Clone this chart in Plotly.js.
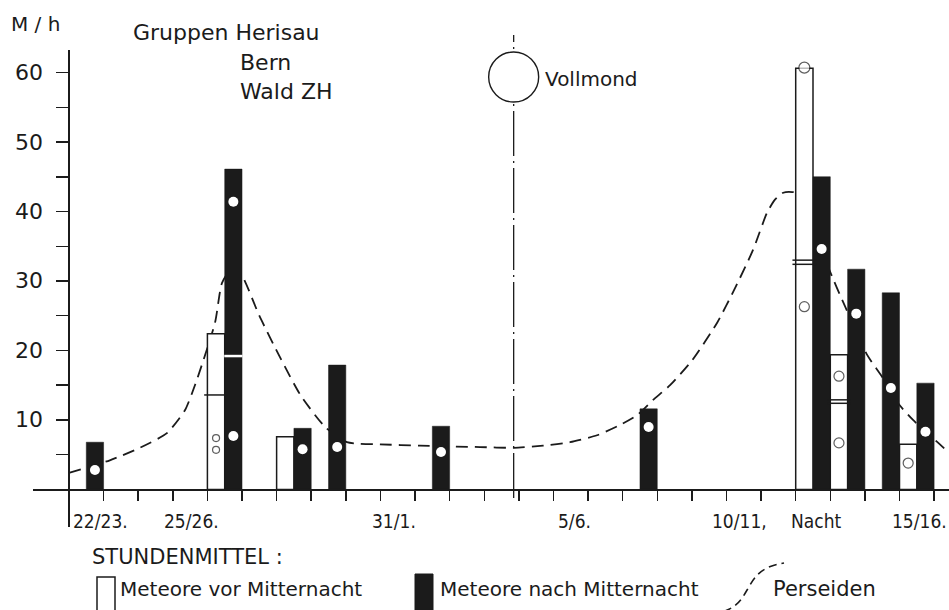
<!DOCTYPE html>
<html><head><meta charset="utf-8">
<script src="https://cdn.plot.ly/plotly-3.0.1.min.js"></script>
<style>html,body{margin:0;padding:0;background:#fff}</style>
</head><body><div id="chart" style="width:949px;height:610px"></div>
<script>
// ---- data (x unit = one night, interval index; 0 = night 22/23.) ----
const nightsBefore = [4, 6, 21, 22, 24];
const valuesBefore = [22.4, 7.6, 60.6, 19.4, 6.5];
const nightsAfter = [0, 4, 6, 7, 10, 16, 21, 22, 23, 24];
const valuesAfter = [6.8, 46.1, 8.8, 17.9, 9.1, 11.6, 45.0, 31.7, 28.3, 15.3];
// single group values inside white bars (lines)
const groupLineNights = [4, 21, 21, 22, 22];
const groupLineValues = [13.6, 33.0, 32.4, 12.9, 12.4];
// single group value inside black bar (white dash)
const groupDashNights = [4];
const groupDashValues = [19.2];
// open circles (before midnight)
const openNights = [4, 4, 21, 21, 22, 22, 24];
const openValues = [7.4, 5.7, 60.7, 26.3, 16.3, 6.7, 3.8];
const openSizes = [7, 7, 11, 10, 10, 10, 10];
// white dots (after midnight)
const dotNights = [0, 4, 4, 6, 7, 10, 16, 21, 22, 23, 24];
const dotValues = [2.8, 41.4, 7.7, 5.8, 6.1, 5.4, 9.0, 34.6, 25.3, 14.6, 8.3];
// Perseiden curve
const curveX = [0, 1.18, 2.05, 2.83, 3.35, 3.64, 4.22, 4.42, 4.7, 4.97, 5.5, 6.1, 6.7, 7.4, 8.03, 8.99, 10.14, 11.88, 12.86, 13.70, 14.48, 15.26, 15.93, 16.42, 16.88, 17.37, 18.01, 18.73, 19.25, 19.77, 20.17, 20.40, 20.64, 20.90, 21.15, 21.5, 21.94, 22.43, 23.06, 23.5, 23.96, 24.39, 25.12, 25.43];
const curveY = [2.4, 4.2, 6.0, 8.1, 11.4, 15.0, 24.0, 29.7, 31.8, 31.0, 25.0, 19.0, 13.5, 9.0, 6.8, 6.5, 6.3, 6.1, 6.0, 6.3, 6.8, 7.8, 9.3, 10.7, 12.9, 15.0, 18.6, 24.0, 29.0, 34.5, 39.8, 41.7, 42.7, 42.8, 42.5, 38.5, 32.0, 26.3, 19.4, 16.2, 12.4, 10.0, 6.7, 5.3];
const fullMoonX = 12.85;
// axis ticks / labels
const xTickVals = Array.from({length: 26}, (_, i) => i);
const yTickVals = [5, 10, 15, 20, 25, 30, 35, 40, 45, 50, 55, 60];
const yLabelVals = [10, 20, 30, 40, 50, 60];
const yLabelText = ['10', '20', '30', '40', '50', '60'];
const dateLabels = ['22/23.', '25/26.', '31/1.', '5/6.', '10/11,', 'Nacht', '15/16.'];
const dateLabelPos = [0.91, 3.55, 9.39, 14.6, 19.39, 21.6, 24.57];

// ---- drawing ----
const INK = '#1b1b1b';
const FONT = 'DejaVu Sans';
const CFONT = 'DejaVu Sans Condensed, DejaVu Sans';
const PX = p => (p - 33) / 916;
const PY = p => (527 - p) / 477;
const xr = [-1.04, 25.43], yr = [-5.40, 63.24];

const traces = [
  {type: 'scatter', x: curveX, y: curveY, mode: 'lines', xaxis: 'x', yaxis: 'y',
   line: {color: INK, width: 1.8, dash: '12px,7px', shape: 'spline', smoothing: 0.6}, hoverinfo: 'skip'},
  {type: 'bar', x: nightsBefore.map(n => n + 0.25), y: valuesBefore, width: 0.5, xaxis: 'x2', yaxis: 'y2',
   marker: {color: '#ffffff', line: {color: INK, width: 1.5}}},
  {type: 'bar', x: nightsAfter.map(n => n + 0.75), y: valuesAfter, width: 0.5, xaxis: 'x2', yaxis: 'y2',
   marker: {color: INK, line: {color: INK, width: 0.5}}},
  {type: 'scatter', mode: 'markers', x: groupLineNights.map(n => n + 0.25), y: groupLineValues, xaxis: 'x2', yaxis: 'y2',
   marker: {symbol: 'line-ew', size: 17, line: {color: INK, width: 1.5}}},
  {type: 'scatter', mode: 'markers', x: groupDashNights.map(n => n + 0.75), y: groupDashValues, xaxis: 'x2', yaxis: 'y2',
   marker: {symbol: 'line-ew', size: 13, line: {color: '#ffffff', width: 2.5}}},
  {type: 'scatter', mode: 'markers', x: openNights.map(n => n + 0.25), y: openValues, xaxis: 'x2', yaxis: 'y2',
   marker: {symbol: 'circle', size: openSizes, color: '#ffffff', line: {color: INK, width: 1.2}}},
  {type: 'scatter', mode: 'markers', x: dotNights.map(n => n + 0.75), y: dotValues, xaxis: 'x2', yaxis: 'y2',
   marker: {symbol: 'circle', size: 10, color: '#ffffff', line: {width: 0}}}
];

function pathFrom(pts) {
  return pts.map(s => PX(s[0]).toFixed(5) + ',' + PY(s[1]).toFixed(5)).join(' ');
}

const annots = [];
function txt(t, x, y, size) {
  annots.push({text: t, xref: 'paper', yref: 'paper', x: PX(x), y: PY(y), xanchor: 'left', yanchor: 'middle',
    showarrow: false, font: {family: FONT, size: size, color: INK}});
}
txt('M / h', 9, 24, 20);
txt('Gruppen Herisau', 131, 33, 22);
txt('Bern', 238, 62, 22);
txt('Wald ZH', 238, 91, 22);
txt('Vollmond', 543, 79, 20);
txt('STUNDENMITTEL :', 90, 557, 21);
txt('Meteore vor Mitternacht', 118, 589, 20);
txt('Meteore nach Mitternacht', 438, 589, 20);
txt('Perseiden', 771, 589, 21);
dateLabels.forEach((t, i) => annots.push({text: t, xref: 'x', yref: 'paper', x: dateLabelPos[i], y: PY(521),
  xanchor: 'center', yanchor: 'middle', showarrow: false, font: {family: CFONT, size: 19, color: INK}}));
yLabelVals.forEach((v, i) => annots.push({text: yLabelText[i], xref: 'paper', yref: 'y', x: PX(45), y: v,
  xanchor: 'right', yanchor: 'middle', showarrow: false, font: {family: FONT, size: 22, color: INK}}));

const shapes = [
  {type: 'line', xref: 'x', yref: 'paper', x0: fullMoonX, x1: fullMoonX, y0: PY(498), y1: PY(35),
   line: {color: INK, width: 1.3, dash: '45px,5px,2px,5px'}},
  {type: 'circle', xref: 'x', yref: 'paper', xsizemode: 'pixel', ysizemode: 'pixel',
   xanchor: fullMoonX, yanchor: PY(77), x0: -25, x1: 25, y0: -25, y1: 25,
   fillcolor: '#ffffff', line: {color: INK, width: 1.4}},
  {type: 'rect', xref: 'paper', yref: 'paper', x0: PX(97), x1: PX(115), y0: PY(614), y1: PY(577),
   fillcolor: '#ffffff', line: {color: INK, width: 1.5}},
  {type: 'rect', xref: 'paper', yref: 'paper', x0: PX(415), x1: PX(433), y0: PY(614), y1: PY(574),
   fillcolor: INK, line: {color: INK, width: 1}},
  {type: 'path', xref: 'paper', yref: 'paper',
   path: 'M ' + pathFrom([[711, 614]]) + ' C ' + pathFrom([[738, 611], [742, 598], [750, 585]]) +
         ' C ' + pathFrom([[757, 573], [765, 566], [784, 563]]),
   line: {color: INK, width: 1.6, dash: '8px,5px'}}
];

const layout = {
  width: 949, height: 610, paper_bgcolor: '#ffffff', plot_bgcolor: '#ffffff',
  margin: {l: 33, r: 0, t: 50, b: 83, pad: 0}, showlegend: false, barmode: 'overlay', bargap: 0,
  font: {family: FONT, color: INK},
  xaxis: {range: xr, anchor: 'free', position: PY(489.5), showline: true, linecolor: INK, linewidth: 2,
    ticks: 'outside', ticklen: 10, tickwidth: 1.5, tickcolor: INK, tickvals: xTickVals, showticklabels: false,
    showgrid: false, zeroline: false, fixedrange: true},
  yaxis: {range: yr, anchor: 'free', position: PX(69), showline: true, linecolor: INK, linewidth: 2,
    ticks: 'outside', ticklen: 12, tickwidth: 1.5, tickcolor: INK, tickvals: yTickVals, showticklabels: false,
    showgrid: false, zeroline: false, fixedrange: true},
  xaxis2: {range: xr, overlaying: 'x', anchor: 'y2', visible: false, fixedrange: true},
  yaxis2: {range: yr, overlaying: 'y', anchor: 'x2', visible: false, fixedrange: true},
  annotations: annots, shapes: shapes
};
Plotly.newPlot('chart', traces, layout, {displayModeBar: false, staticPlot: true});
</script></body></html>
